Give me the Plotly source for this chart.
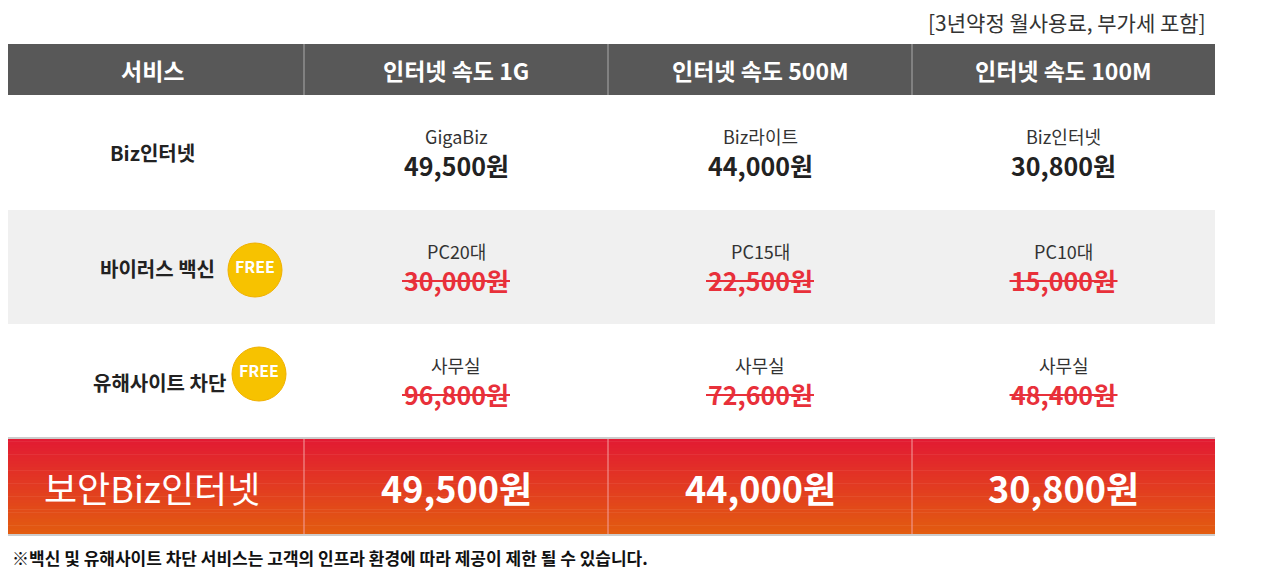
import plotly.graph_objects as go

headers = ['서비스', '인터넷 속도 1G', '인터넷 속도 500M', '인터넷 속도 100M']
row_labels = ['Biz인터넷', '바이러스 백신', '유해사이트 차단']
sub_labels = [['GigaBiz', 'Biz라이트', 'Biz인터넷'],
              ['PC20대', 'PC15대', 'PC10대'],
              ['사무실', '사무실', '사무실']]
prices = [['49,500원', '44,000원', '30,800원'],
          ['30,000원', '22,500원', '15,000원'],
          ['96,800원', '72,600원', '48,400원']]
total_label = '보안Biz인터넷'
totals = ['49,500원', '44,000원', '30,800원']
note = '[3년약정 월사용료, 부가세 포함]'
footer = '※백신 및 유해사이트 차단 서비스는 고객의 인프라 환경에 따라 제공이 제한 될 수 있습니다.'

FONT = 'Noto Sans CJK KR, sans-serif'
col_x = [0, 304, 608, 912, 1215]
row_y = [95, 210, 324, 438]
row_bg = ['#ffffff', '#f0f0f0', '#ffffff']

shapes, ann = [], []

def text(x, y, s, size, color='#222', bold=False, xanchor='center'):
    ann.append(dict(x=x, y=y, text=f'<b>{s}</b>' if bold else s, showarrow=False,
                    xanchor=xanchor, yanchor='middle',
                    font=dict(family=FONT, size=size, color=color)))

# header
shapes.append(dict(type='rect', x0=0, x1=1215, y0=44, y1=95, fillcolor='#585858', line_width=0, layer='below'))
for i, h in enumerate(headers):
    text((col_x[i] + col_x[i + 1]) / 2, 70, h, 23, '#ffffff', bold=True)

# body rows
for r in range(3):
    y0, y1 = row_y[r], row_y[r + 1]
    shapes.append(dict(type='rect', x0=0, x1=1215, y0=y0, y1=y1, fillcolor=row_bg[r], line_width=0, layer='below'))
    for c in range(3):
        cx = (col_x[c + 1] + col_x[c + 2]) / 2
        text(cx, y0 + 41, sub_labels[r][c], 18, '#333')
        if r == 0:
            text(cx, y0 + 70, prices[r][c], 25, '#222', bold=True)
        else:
            text(cx, y0 + 70, prices[r][c], 25, '#e8303a', bold=True)
            shapes.append(dict(type='line', x0=cx - 54, x1=cx + 54, y0=y0 + 71, y1=y0 + 71,
                               line=dict(color='#e8303a', width=2)))

text(152, 152, row_labels[0], 20, '#222', bold=True)
text(217, 268, row_labels[1], 20, '#222', bold=True, xanchor='right')
text(228, 382, row_labels[2], 20, '#222', bold=True, xanchor='right')

# FREE badges
for bx, by in [(255, 270), (259, 374)]:
    shapes.append(dict(type='circle', x0=bx - 27, x1=bx + 27, y0=by - 27, y1=by + 27,
                       fillcolor='#f7c200', line=dict(color='#f0b000', width=1)))
    text(bx, by - 4, 'FREE', 16, '#ffffff', bold=True)

# gradient total row
n = 30
top, bot = (226, 27, 51), (227, 92, 16)
for k in range(n):
    t = k / (n - 1)
    col = 'rgb(%d,%d,%d)' % tuple(int(a + (b - a) * t) for a, b in zip(top, bot))
    shapes.append(dict(type='rect', x0=0, x1=1215, y0=438 + 97 * k / n, y1=438 + 97 * (k + 1) / n + 0.5,
                       fillcolor=col, line_width=0, layer='below'))
text(152, 487, total_label, 36, '#ffffff')
for c in range(3):
    text((col_x[c + 1] + col_x[c + 2]) / 2, 487, totals[c], 36, '#ffffff', bold=True)

# grid lines
for x in col_x[1:4]:
    shapes.append(dict(type='line', x0=x, x1=x, y0=44, y1=95, line=dict(color='#aaaaaa', width=1)))
    shapes.append(dict(type='line', x0=x, x1=x, y0=438, y1=535, line=dict(color='#f3a0a0', width=1)))
shapes.append(dict(type='line', x0=0, x1=1215, y0=438, y1=438, line=dict(color='#cccccc', width=2)))
shapes.append(dict(type='line', x0=0, x1=1215, y0=535, y1=535, line=dict(color='#cccccc', width=2)))

text(1208, 22, note, 21, '#333', xanchor='right')
text(10, 557, footer, 17, '#111', bold=True, xanchor='left')

# page body has an 8px margin, so the figure is shifted by 8px and shrunk to fit
fig = go.Figure()
fig.update_layout(
    width=1264, height=562, margin=dict(l=0, r=0, t=0, b=0),
    paper_bgcolor='#ffffff', plot_bgcolor='#ffffff',
    xaxis=dict(range=[8, 1272], visible=False, fixedrange=True),
    yaxis=dict(range=[570, 8], visible=False, fixedrange=True),
    shapes=shapes, annotations=ann, showlegend=False,
)
fig.write_html('out.html')
